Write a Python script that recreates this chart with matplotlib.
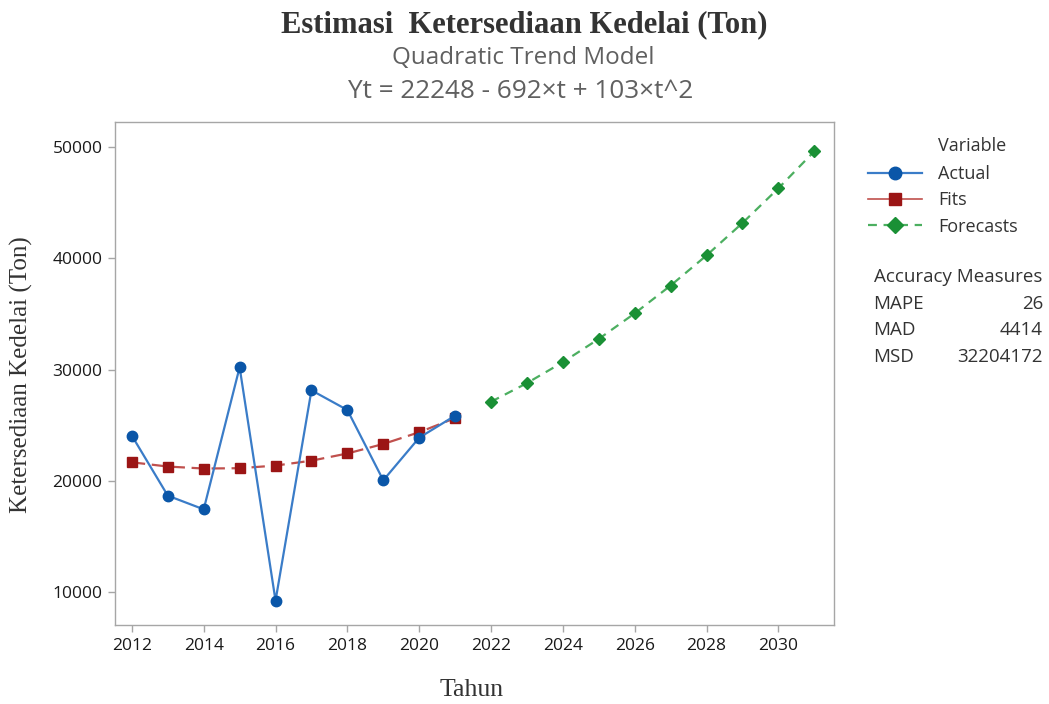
import matplotlib
matplotlib.use("Agg")
import matplotlib.pyplot as plt
from matplotlib.lines import Line2D

years_actual = [2012, 2013, 2014, 2015, 2016, 2017, 2018, 2019, 2020, 2021]
actual = [24050, 18660, 17430, 30200, 9220, 28130, 26360, 20040, 23870, 25850]
fits = [21659, 21276, 21099, 21128, 21363, 21804, 22451, 23304, 24363, 25628]
years_fc = [2022, 2023, 2024, 2025, 2026, 2027, 2028, 2029, 2030, 2031]
forecasts = [27099, 28776, 30659, 32748, 35043, 37544, 40251, 43164, 46283, 49608]
x_ticks = [2012, 2014, 2016, 2018, 2020, 2022, 2024, 2026, 2028, 2030]
y_ticks = [10000, 20000, 30000, 40000, 50000]
acc_names = ["MAPE", "MAD", "MSD"]
acc_values = ["26", "4414", "32204172"]

sans = ["Open Sans", "DejaVu Sans"]
serif = ["Liberation Serif", "DejaVu Serif"]

fig = plt.figure(figsize=(10.49, 7.04), dpi=100)
ax = fig.add_axes([115/1049, 1-625/704, (834-115)/1049, (625-122)/704])

c_act_line = "#3a7cc8"; c_act = "#0a56a8"
c_fit_line = "#c0504d"; c_fit = "#9b1515"
c_fc_line = "#4caf60"; c_fc = "#1a9035"

ax.plot(years_actual, actual, color=c_act_line, lw=1.6, marker="o", ms=7.5,
        mfc=c_act, mec=c_act, zorder=3)
ax.plot(years_actual, fits, color=c_fit_line, lw=1.6, ls=(0, (6, 3)), marker="s", ms=7.5,
        mfc=c_fit, mec=c_fit, zorder=2)
ax.plot(years_fc, forecasts, color=c_fc_line, lw=1.6, ls=(0, (4, 3)), marker="D", ms=6.5,
        mfc=c_fc, mec=c_fc, zorder=2)

ax.set_xlim(2011.53, 2031.55)
ax.set_ylim(7034, 52247)
ax.set_xticks(x_ticks)
ax.set_yticks(y_ticks)
for s in ax.spines.values():
    s.set_color("#a6a6a6")
    s.set_linewidth(1.0)
ax.tick_params(direction="out", length=5, color="#a6a6a6", width=1, pad=4)
for lab in ax.get_xticklabels() + ax.get_yticklabels():
    lab.set_family(sans)
    lab.set_fontsize(12.5)
    lab.set_color("#1a1a1a")

ax.set_xlabel("Tahun", family=serif, fontsize=18.5, color="#333333")
ax.set_ylabel("Ketersediaan Kedelai (Ton)", family=serif, fontsize=18, color="#333333")
ax.xaxis.label.set_va("center")
ax.yaxis.label.set_va("center")
ax.xaxis.set_label_coords((472-115)/719, (625-690)/503)
ax.yaxis.set_label_coords((21-115)/719, (625-375)/503)

fig.text(524/1049, 1-25/704, "Estimasi  Ketersediaan Kedelai (Ton)", family=serif,
         fontweight="bold", fontsize=22, color="#333333", ha="center", va="center")
fig.text(523/1049, 1-58/704, "Quadratic Trend Model", family=sans, fontsize=17.5,
         color="#606060", ha="center", va="center")
fig.text(521/1049, 1-92/704, "Yt = 22248 - 692\u00d7t + 103\u00d7t^2", family=sans, fontsize=18.8,
         color="#606060", ha="center", va="center")

# Legend
handles = [
    Line2D([], [], color=c_act_line, lw=1.6, marker="o", ms=9, mfc=c_act, mec=c_act),
    Line2D([], [], color=c_fit_line, lw=1.2, marker="s", ms=9, mfc=c_fit, mec=c_fit),
    Line2D([], [], color=c_fc_line, lw=1.6, ls=(0, (4, 3)), marker="D", ms=8, mfc=c_fc, mec=c_fc),
]
leg = fig.legend(handles, ["Actual", "Fits", "Forecasts"],
                 loc="upper left", bbox_to_anchor=(859/1049, 1-156/704),
                 frameon=False, prop={"family": sans, "size": 13},
                 handlelength=3.0, handletextpad=0.9, labelspacing=0.46, borderpad=0)
for t in leg.get_texts():
    t.set_color("#333333")
fig.text(938/1049, 1-146/704, "Variable", family=sans, fontsize=13,
         color="#333333", ha="left", va="center")

fig.text(958/1049, 1-277/704, "Accuracy Measures", family=sans, fontsize=13.5,
         color="#333333", ha="center", va="center")
for i, (n, v) in enumerate(zip(acc_names, acc_values)):
    yy = 1 - (304 + 26.3*i)/704
    fig.text(873/1049, yy, n, family=sans, fontsize=13.5, color="#333333", ha="left", va="center")
    fig.text(1043/1049, yy, v, family=sans, fontsize=13.5, color="#333333", ha="right", va="center")

fig.savefig("out.png", dpi=100, facecolor="white")
